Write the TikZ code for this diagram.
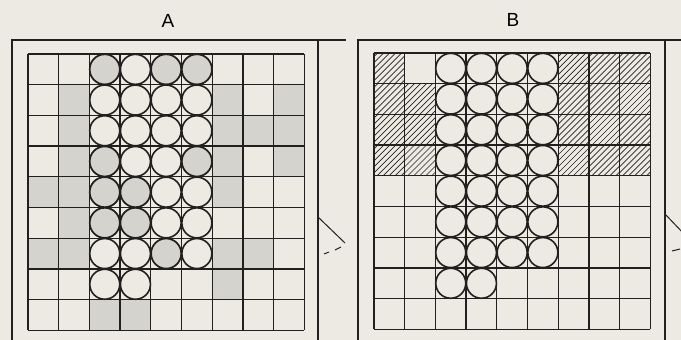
\documentclass[tikz,border=0pt]{standalone}
\usepackage{fontspec}
\setsansfont{Liberation Sans}
\usepackage{xcolor}
\usetikzlibrary{positioning}
\definecolor{paper}{RGB}{237,234,228}
\definecolor{stipple}{RGB}{213,211,205}
\definecolor{ink}{RGB}{34,32,30}
\def\cs{30.7}

\begin{document}
\begin{tikzpicture}[x=1pt,y=-1pt,
  font=\sffamily\fontsize{19}{22}\selectfont,
  frame/.style={draw=ink,line width=1.8pt},
  gridline/.style={draw=ink,line width=1.3pt},
  bead/.style={draw=ink,line width=1.6pt,fill=paper},
  hatch/.style={draw=ink,line width=0.7pt},
  mark line/.style={draw=ink,line width=1pt}
]
\fill[paper] (0,0) rectangle (681,340);
\useasboundingbox (0,0) rectangle (681,340);

\node (labA) at (168,21) {A};
\node (labB) at (513,20) {B};

\draw[frame] (12,345) -- (12,40) -- (346,40);
\draw[frame] (318,40) -- (318,345);
\draw[frame] (358,345) -- (358,40) -- (685,40);
\draw[frame] (665,40) -- (665,345);
\draw[mark line] (318,217) -- (345,243);
\draw[mark line] (324,254) -- (329,252) (335,250) -- (341,247);
\draw[mark line] (665,214) -- (685,235);
\draw[mark line] (672,251) -- (680,249);

\begin{scope}[shift={(28,54)}]
  \foreach \i/\j in {1/1,6/1,8/1,1/2,6/2,7/2,8/2,1/3,6/3,8/3,0/4,1/4,6/4,1/5,0/6,1/6,6/6,7/6,6/7,2/8,3/8}
    \fill[stipple] (\i*\cs,\j*\cs) rectangle ++(\cs,\cs);
  \foreach \k in {0,...,9} {
    \draw[gridline] (\k*\cs,0) -- (\k*\cs,9*\cs);
    \draw[gridline] (0,\k*\cs) -- (9*\cs,\k*\cs);
  }
  \foreach \i in {2,...,5} \foreach \j in {0,...,6}
    \draw[bead] ({(\i+0.5)*\cs},{(\j+0.5)*\cs}) circle[radius=15pt];
  \foreach \i in {2,3}
    \draw[bead] ({(\i+0.5)*\cs},{7.5*\cs}) circle[radius=15pt];
  \foreach \i/\j in {2/0,4/0,5/0,2/3,5/3,2/4,3/4,2/5,3/5,4/6}
    \draw[bead,fill=stipple] ({(\i+0.5)*\cs},{(\j+0.5)*\cs}) circle[radius=15pt];
\end{scope}

\begin{scope}[shift={(374,53)}]
  \foreach \i/\j in {0/0,6/0,7/0,8/0,0/1,1/1,6/1,7/1,8/1,0/2,1/2,6/2,7/2,8/2,0/3,1/3,6/3,7/3,8/3} {
    \begin{scope}
      \clip (\i*\cs,\j*\cs) rectangle ++(\cs,\cs);
      \foreach \o in {-33,-27,...,33}
        \draw[hatch] ({\i*\cs+\o},{(\j+1)*\cs}) -- ++(\cs,-\cs);
    \end{scope}
  }
  \foreach \k in {0,...,9} {
    \draw[gridline] (\k*\cs,0) -- (\k*\cs,9*\cs);
    \draw[gridline] (0,\k*\cs) -- (9*\cs,\k*\cs);
  }
  \foreach \i in {2,...,5} \foreach \j in {0,...,6}
    \draw[bead] ({(\i+0.5)*\cs},{(\j+0.5)*\cs}) circle[radius=15pt];
  \foreach \i in {2,3}
    \draw[bead] ({(\i+0.5)*\cs},{7.5*\cs}) circle[radius=15pt];
\end{scope}
\end{tikzpicture}
\end{document}
